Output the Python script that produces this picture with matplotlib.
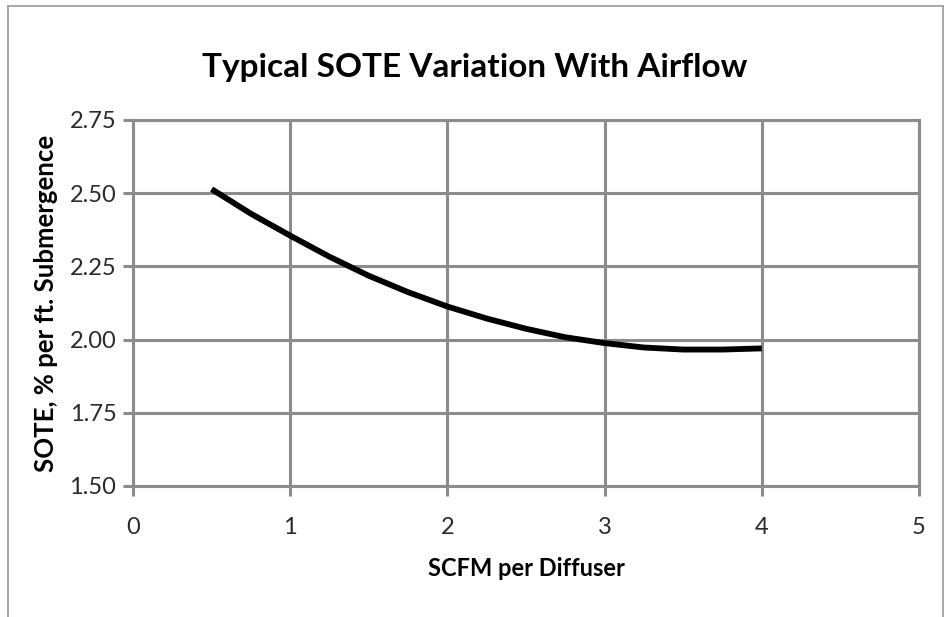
import matplotlib
matplotlib.use("Agg")
import matplotlib.pyplot as plt
from matplotlib.lines import Line2D

# SCFM per diffuser vs SOTE (% per ft. submergence)
scfm = [0.5, 0.75, 1.0, 1.25, 1.5, 1.75, 2.0, 2.25, 2.5, 2.75, 3.0, 3.25, 3.5, 3.75, 4.0]
sote = [2.514, 2.430, 2.355, 2.283, 2.218, 2.162, 2.113, 2.072, 2.037, 2.008, 1.988, 1.973, 1.966, 1.966, 1.970]

x_ticks = [0, 1, 2, 3, 4, 5]
y_ticks = [1.50, 1.75, 2.00, 2.25, 2.50, 2.75]

plt.rcParams["font.family"] = ["Lato", "DejaVu Sans"]

fig = plt.figure(figsize=(9.49, 6.17), dpi=100)
ax = fig.add_axes([133 / 949, 1 - 486 / 617, (919 - 133) / 949, (486 - 120) / 617])

grid_c = "#8c8c8c"
ax.plot(scfm, sote, color="black", lw=4.2, solid_capstyle="butt", zorder=3)

ax.set_xlim(0, 5)
ax.set_ylim(1.5, 2.75)
ax.set_xticks(x_ticks)
ax.set_yticks(y_ticks)
ax.set_xticklabels([str(t) for t in x_ticks])
ax.set_yticklabels([f"{t:.2f}" for t in y_ticks])
ax.grid(True, color=grid_c, lw=2.2)
for s in ax.spines.values():
    s.set_color(grid_c)
    s.set_linewidth(2.2)
ax.tick_params(axis="both", colors=grid_c, width=2.2, length=7, labelsize=17,
               labelcolor="#2a2a2a")
ax.tick_params(axis="x", pad=15)
ax.tick_params(axis="y", pad=5)

ax.set_xlabel("SCFM per Diffuser", fontsize=17, fontweight="bold", labelpad=14)
ax.set_ylabel("SOTE, % per ft. Submergence", fontsize=18.5, fontweight="bold", labelpad=8)
fig.text(0.5, 1 - 67 / 617, "Typical SOTE Variation With Airflow", ha="center", va="center",
         fontsize=24, fontweight="bold")

# outer chart frame (bottom edge is cut off in the original)
frame_c = "#9a9a9a"
for xs, ys in [([8, 8], [617, 6]), ([8, 943], [6, 6]), ([943, 943], [6, 617])]:
    fig.add_artist(Line2D([x / 949 for x in xs], [1 - y / 617 for y in ys],
                          color=frame_c, lw=1.2, transform=fig.transFigure))

fig.savefig("out.png", dpi=100)
